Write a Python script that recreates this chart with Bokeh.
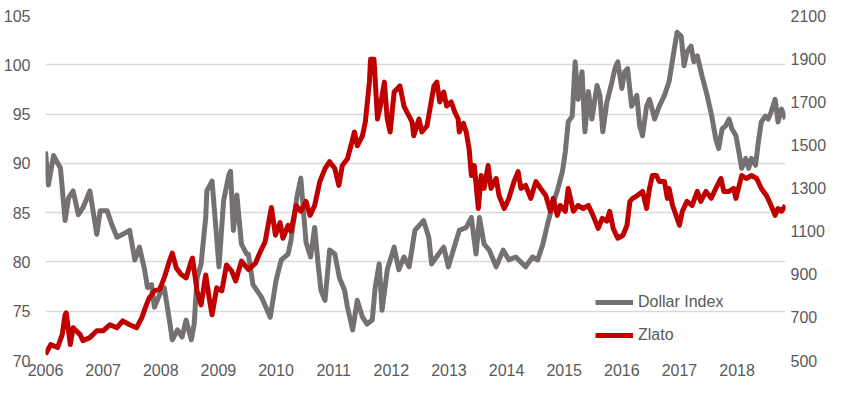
from bokeh.plotting import figure
from bokeh.models import Range1d, LinearAxis, FixedTicker, Legend, LegendItem
from bokeh.embed import file_html
from bokeh.resources import INLINE

# ---- data ----
dollar_years = [2006.00, 2006.05, 2006.14, 2006.26, 2006.34, 2006.40, 2006.48, 2006.57, 2006.65, 2006.77,
                2006.89, 2006.95, 2007.07, 2007.15, 2007.24, 2007.34, 2007.46, 2007.55, 2007.63, 2007.72,
                2007.77, 2007.84, 2007.89, 2007.98, 2008.06, 2008.15, 2008.20, 2008.29, 2008.37, 2008.44,
                2008.53, 2008.58, 2008.63, 2008.70, 2008.78, 2008.80, 2008.89, 2008.96, 2009.01, 2009.09,
                2009.18, 2009.21, 2009.26, 2009.32, 2009.40, 2009.49, 2009.52, 2009.60, 2009.75, 2009.90,
                2010.00, 2010.09, 2010.21, 2010.26, 2010.36, 2010.43, 2010.52, 2010.60, 2010.67, 2010.73,
                2010.78, 2010.85, 2010.93, 2011.02, 2011.10, 2011.19, 2011.24, 2011.33, 2011.41, 2011.50,
                2011.58, 2011.67, 2011.72, 2011.79, 2011.84, 2011.93, 2012.05, 2012.13, 2012.22, 2012.31,
                2012.41, 2012.56, 2012.65, 2012.70, 2012.82, 2012.91, 2012.99, 2013.04, 2013.18, 2013.30,
                2013.39, 2013.47, 2013.53, 2013.61, 2013.70, 2013.82, 2013.94, 2014.04, 2014.16, 2014.33,
                2014.45, 2014.54, 2014.63, 2014.71, 2014.80, 2014.88, 2014.97, 2015.02, 2015.07, 2015.14,
                2015.19, 2015.24, 2015.31, 2015.36, 2015.42, 2015.48, 2015.57, 2015.62, 2015.67, 2015.74,
                2015.83, 2015.88, 2015.93, 2016.00, 2016.05, 2016.10, 2016.17, 2016.26, 2016.31, 2016.36,
                2016.43, 2016.48, 2016.57, 2016.65, 2016.74, 2016.82, 2016.91, 2016.96, 2017.03, 2017.08,
                2017.13, 2017.20, 2017.25, 2017.31, 2017.39, 2017.48, 2017.56, 2017.63, 2017.68, 2017.74,
                2017.80, 2017.86, 2017.91, 2017.98, 2018.03, 2018.08, 2018.15, 2018.20, 2018.25, 2018.32,
                2018.37, 2018.42, 2018.49, 2018.54, 2018.59, 2018.66, 2018.71, 2018.77, 2018.84]
dollar_values = [91.2, 87.8, 90.8, 89.5, 84.2, 86.5, 87.2, 84.8, 85.5, 87.2,
                 82.8, 85.2, 85.2, 83.8, 82.5, 82.8, 83.2, 80.2, 81.5, 79.2,
                 77.4, 77.7, 75.4, 76.7, 77.4, 74.1, 72.1, 73.1, 72.4, 74.1,
                 72.1, 73.7, 78.4, 79.8, 84.5, 87.2, 88.2, 83.2, 79.5, 86.2,
                 88.8, 89.2, 83.2, 86.8, 81.8, 80.8, 80.8, 77.7, 76.4, 74.4,
                 78.1, 80.2, 80.8, 82.2, 86.5, 88.5, 82.0, 80.5, 83.5, 79.8,
                 77.1, 76.1, 81.2, 80.8, 78.4, 77.1, 75.4, 73.1, 76.1, 74.4,
                 73.7, 74.1, 77.4, 79.8, 75.1, 79.2, 81.5, 79.2, 80.5, 79.5,
                 83.2, 84.2, 82.5, 79.8, 80.8, 81.5, 79.5, 80.5, 83.2, 83.5,
                 84.5, 80.8, 84.5, 81.8, 81.2, 79.5, 81.2, 80.2, 80.5, 79.5,
                 80.5, 80.2, 81.8, 83.8, 85.8, 87.2, 89.2, 91.2, 94.2, 94.8,
                 100.3, 96.5, 99.3, 93.2, 97.3, 94.5, 97.9, 96.9, 93.2, 96.2,
                 98.3, 99.6, 100.3, 97.6, 99.3, 99.6, 95.8, 96.9, 93.8, 92.8,
                 95.8, 96.5, 94.5, 95.8, 96.9, 98.3, 101.6, 103.3, 102.9, 99.9,
                 101.3, 101.9, 100.3, 100.9, 98.9, 96.9, 94.8, 92.5, 91.5, 93.5,
                 93.8, 94.5, 93.5, 92.8, 91.2, 89.5, 90.5, 89.5, 90.5, 89.8,
                 92.2, 94.2, 94.8, 94.5, 95.2, 96.5, 94.2, 95.5, 94.5]

gold_years = [2006.00, 2006.09, 2006.21, 2006.29, 2006.34, 2006.36, 2006.43, 2006.48, 2006.60, 2006.65,
              2006.77, 2006.89, 2007.00, 2007.12, 2007.24, 2007.34, 2007.46, 2007.58, 2007.67, 2007.75,
              2007.80, 2007.89, 2007.98, 2008.06, 2008.15, 2008.20, 2008.27, 2008.35, 2008.44, 2008.53,
              2008.55, 2008.63, 2008.70, 2008.78, 2008.84, 2008.89, 2008.97, 2009.06, 2009.14, 2009.23,
              2009.30, 2009.40, 2009.52, 2009.64, 2009.72, 2009.81, 2009.92, 2009.99, 2010.07, 2010.12,
              2010.21, 2010.26, 2010.35, 2010.43, 2010.52, 2010.59, 2010.67, 2010.76, 2010.85, 2010.93,
              2011.02, 2011.09, 2011.15, 2011.24, 2011.33, 2011.36, 2011.41, 2011.50, 2011.55, 2011.62,
              2011.64, 2011.70, 2011.76, 2011.81, 2011.88, 2011.93, 2011.98, 2012.05, 2012.10, 2012.15,
              2012.22, 2012.27, 2012.36, 2012.39, 2012.48, 2012.53, 2012.62, 2012.67, 2012.74, 2012.79,
              2012.84, 2012.91, 2012.96, 2013.04, 2013.10, 2013.16, 2013.18, 2013.25, 2013.30, 2013.35,
              2013.39, 2013.44, 2013.51, 2013.56, 2013.61, 2013.68, 2013.73, 2013.82, 2013.87, 2013.96,
              2014.04, 2014.13, 2014.20, 2014.25, 2014.33, 2014.42, 2014.51, 2014.59, 2014.68, 2014.76,
              2014.81, 2014.88, 2014.93, 2015.02, 2015.07, 2015.16, 2015.24, 2015.33, 2015.42, 2015.50,
              2015.59, 2015.66, 2015.74, 2015.79, 2015.85, 2015.93, 2016.02, 2016.09, 2016.14, 2016.19,
              2016.27, 2016.36, 2016.43, 2016.48, 2016.53, 2016.60, 2016.65, 2016.74, 2016.79, 2016.82,
              2016.88, 2016.96, 2017.00, 2017.05, 2017.13, 2017.22, 2017.31, 2017.37, 2017.46, 2017.55,
              2017.63, 2017.72, 2017.77, 2017.86, 2017.94, 2017.98, 2018.08, 2018.16, 2018.25, 2018.34,
              2018.42, 2018.51, 2018.59, 2018.66, 2018.71, 2018.77, 2018.84]
gold_values = [528, 574, 560, 620, 712, 721, 574, 652, 620, 592,
               606, 638, 638, 666, 652, 684, 666, 652, 698, 758,
               790, 823, 830, 883, 961, 998, 929, 900, 883, 961,
               975, 823, 758, 897, 790, 712, 837, 823, 943, 915,
               869, 961, 922, 950, 1000, 1050, 1210, 1081, 1140, 1067,
               1127, 1099, 1219, 1192, 1238, 1173, 1219, 1330, 1390, 1422,
               1390, 1312, 1404, 1436, 1528, 1560, 1496, 1542, 1607, 1791,
               1897, 1897, 1620, 1680, 1791, 1620, 1560, 1745, 1759, 1773,
               1680, 1653, 1607, 1542, 1620, 1560, 1588, 1666, 1773, 1791,
               1699, 1745, 1680, 1699, 1653, 1620, 1560, 1600, 1560, 1482,
               1358, 1404, 1205, 1358, 1298, 1404, 1298, 1344, 1265, 1205,
               1252, 1330, 1376, 1298, 1312, 1252, 1330, 1298, 1265, 1192,
               1252, 1173, 1219, 1192, 1298, 1192, 1219, 1205, 1219, 1173,
               1113, 1159, 1146, 1192, 1113, 1067, 1081, 1127, 1238, 1252,
               1265, 1284, 1205, 1298, 1358, 1358, 1330, 1330, 1252, 1298,
               1219, 1159, 1127, 1192, 1238, 1219, 1284, 1238, 1284, 1252,
               1298, 1344, 1284, 1284, 1298, 1252, 1358, 1344, 1358, 1344,
               1298, 1265, 1219, 1173, 1205, 1192, 1219]

year_ticks = list(range(2006, 2019))
left_ticks = [70, 75, 80, 85, 90, 95, 100, 105]
right_ticks = [500, 700, 900, 1100, 1300, 1500, 1700, 1900, 2100]
series_names = ["Dollar Index", "Zlato"]

GRAY = "#767171"
RED = "#C00000"
TXT = "#595959"
FONT = "Liberation Sans"

p = figure(width=829, height=381, output_backend="svg", toolbar_location=None,
           x_range=Range1d(2006, 2018.84), y_range=Range1d(70, 105),
           min_border_left=45, min_border_right=42, min_border_top=15, min_border_bottom=21)
p.extra_y_ranges = {"gold": Range1d(500, 2100)}
p.outline_line_color = None
p.background_fill_color = "white"
p.border_fill_color = "white"

r_dollar = p.line(dollar_years, dollar_values, line_color=GRAY, line_width=5, line_join="round")
r_gold = p.line(gold_years, gold_values, line_color=RED, line_width=5, line_join="round",
                y_range_name="gold")

# axes
p.xaxis.ticker = FixedTicker(ticks=year_ticks)
p.yaxis.ticker = FixedTicker(ticks=left_ticks)
right_axis = LinearAxis(y_range_name="gold", ticker=FixedTicker(ticks=right_ticks))
p.add_layout(right_axis, "right")

for ax in [p.xaxis[0], p.yaxis[0], right_axis]:
    ax.axis_line_color = None
    ax.major_tick_line_color = None
    ax.minor_tick_line_color = None
    ax.major_tick_out = 0
    ax.major_tick_in = 0
    ax.major_label_text_color = TXT
    ax.major_label_text_font = FONT
    ax.major_label_text_font_size = "16px"
p.xaxis.major_label_standoff = 3
p.yaxis[0].major_label_standoff = 15
right_axis.major_label_standoff = 5

p.xgrid.grid_line_color = None
p.ygrid.ticker = FixedTicker(ticks=left_ticks)
p.ygrid.grid_line_color = "#d9d9d9"
p.ygrid.grid_line_width = 1.3

legend = Legend(items=[LegendItem(label=series_names[0], renderers=[r_dollar]),
                       LegendItem(label=series_names[1], renderers=[r_gold])],
                location=(550, 15), orientation="vertical")
legend.background_fill_alpha = 0
legend.border_line_color = None
legend.label_text_font = FONT
legend.label_text_font_size = "16px"
legend.label_text_color = TXT
legend.glyph_width = 38
legend.glyph_height = 20
legend.label_height = 20
legend.label_standoff = 5
legend.spacing = 13
legend.padding = 0
legend.margin = 0
p.add_layout(legend, "center")

open("out.html", "w").write(file_html(p, INLINE))
